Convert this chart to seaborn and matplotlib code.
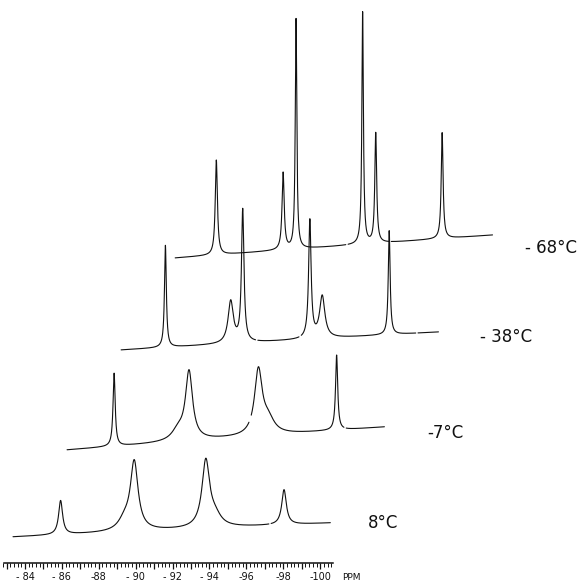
import numpy as np
import pandas as pd
import matplotlib
matplotlib.use("Agg")
import matplotlib.pyplot as plt
import seaborn as sns
from matplotlib.ticker import FixedLocator, FixedFormatter

# ---------------- data ----------------
temperatures = ["8°C", "-7°C", "-38°C", "-68°C"]
temp_labels = ["8°C", "-7°C", "- 38°C", "- 68°C"]

# peak positions (ppm), heights (arb. units) and half-widths (ppm) per spectrum
pos_8 = [-85.93, -89.40, -89.92, -93.80, -94.30, -98.04]
hgt_8 = [34, 10, 68, 66, 10, 35]
wid_8 = [0.13, 0.40, 0.25, 0.25, 0.40, 0.15]

pos_m7 = [-85.90, -89.37, -89.96, -93.72, -94.25, -97.96]
hgt_m7 = [73, 10, 68, 64, 14, 75]
wid_m7 = [0.07, 0.40, 0.23, 0.25, 0.40, 0.07]

pos_m38 = [-85.75, -89.29, -89.94, -93.58, -94.25, -97.88]
hgt_m38 = [102, 42, 132, 118, 42, 104]
wid_m38 = [0.06, 0.17, 0.08, 0.08, 0.17, 0.06]

pos_m68 = [-85.58, -89.20, -89.90, -93.51, -94.22, -97.82]
hgt_m68 = [95, 77, 230, 232, 110, 106]
wid_m68 = [0.07, 0.07, 0.05, 0.05, 0.06, 0.06]

# baseline level at the low-field and high-field ends of each trace
base_left = [48, 135, 235, 327]
base_right = [62, 158, 253, 350]

# pen breaks in the recorded traces (ppm)
gaps_8 = [-97.28]
gaps_m7 = [-93.27, -98.42]
gaps_m38 = [-90.70, -93.05, -99.38]
gaps_m68 = [-92.66, -95.00]

scale_major = list(range(-83, -101, -1))
scale_labels = ["- 84", "- 86", "-88", "- 90", "- 92", "- 94", "-96", "-98", "-100"]

# ---------------- layout constants ----------------
ppm_start, ppm_end = -83.35, -100.55
step_ppm = 2.93          # horizontal stagger between stacked spectra
gap_w = 0.12

peaks = [(pos_8, hgt_8, wid_8), (pos_m7, hgt_m7, wid_m7),
         (pos_m38, hgt_m38, wid_m38), (pos_m68, hgt_m68, wid_m68)]
gaps = [gaps_8, gaps_m7, gaps_m38, gaps_m68]

frames = []
grid = np.linspace(ppm_start, ppm_end, 4000)
for k, (pp, hh, ww) in enumerate(peaks):
    frac = (grid - ppm_start) / (ppm_end - ppm_start)
    y = base_left[k] + (base_right[k] - base_left[k]) * frac
    for p, h, w in zip(pp, hh, ww):
        y = y + h / (1.0 + ((grid - p) / w) ** 2)
    seg = np.zeros_like(grid, dtype=int)
    keep = np.ones_like(grid, dtype=bool)
    for g in sorted(gaps[k], reverse=True):
        seg[grid < g] += 1
        keep &= np.abs(grid - g) > gap_w / 2
    frames.append(pd.DataFrame({
        "ppm": grid[keep] - k * step_ppm,
        "intensity": y[keep],
        "seg": [f"{temperatures[k]}_{s}" for s in seg[keep]],
    }))
df = pd.concat(frames, ignore_index=True)

sns.set_style("white", {"xtick.bottom": True})
plt.rcParams["font.family"] = ["DejaVu Sans"]

fig = plt.figure(figsize=(5.88, 5.85), dpi=100)
ax = fig.add_axes([0, 0, 1, 1])
sns.lineplot(data=df, x="ppm", y="intensity", units="seg", estimator=None,
             sort=False, color="#111111", linewidth=0.8, ax=ax, legend=False)

ax.set_xlim(-82.645, -114.515)
ax.set_ylim(0, 585)
for s in ["top", "left", "right"]:
    ax.spines[s].set_visible(False)
ax.spines["bottom"].set_position(("data", 22))
ax.spines["bottom"].set_bounds(-82.86, -100.69)
ax.spines["bottom"].set_linewidth(1.1)
ax.spines["bottom"].set_color("#111111")
ax.set_yticks([])
ax.xaxis.set_major_locator(FixedLocator(scale_major))
maj_labels = []
for v in scale_major:
    if v % 2 == 0:
        maj_labels.append(scale_labels[(-84 - v) // 2])
    else:
        maj_labels.append("")
ax.xaxis.set_major_formatter(FixedFormatter(maj_labels))
ax.xaxis.set_minor_locator(FixedLocator(list(np.arange(-82.8, -100.7, -0.2))))
ax.tick_params(axis="x", which="both", bottom=True, top=False)
ax.tick_params(axis="x", which="major", length=4.5, width=0.9, direction="out",
               pad=2.0, labelsize=7, colors="#111111")
ax.tick_params(axis="x", which="minor", length=2.6, width=0.7, direction="out",
               colors="#111111")
ax.set_xlabel("")
ax.set_ylabel("")
ax.text(-101.2, 8, "PPM", fontsize=6.5, ha="left", va="center", color="#111111")

# temperature labels next to each trace
label_x = [-103.4, -106.8, -110.1, -112.5]
label_y = [62, 152, 248, 337]
for lx, ly, t in zip(label_x, label_y, temp_labels):
    ax.text(lx, ly, t, fontsize=12, ha="center", va="center", color="#111111")

fig.savefig("out.png", dpi=100, facecolor="white")
